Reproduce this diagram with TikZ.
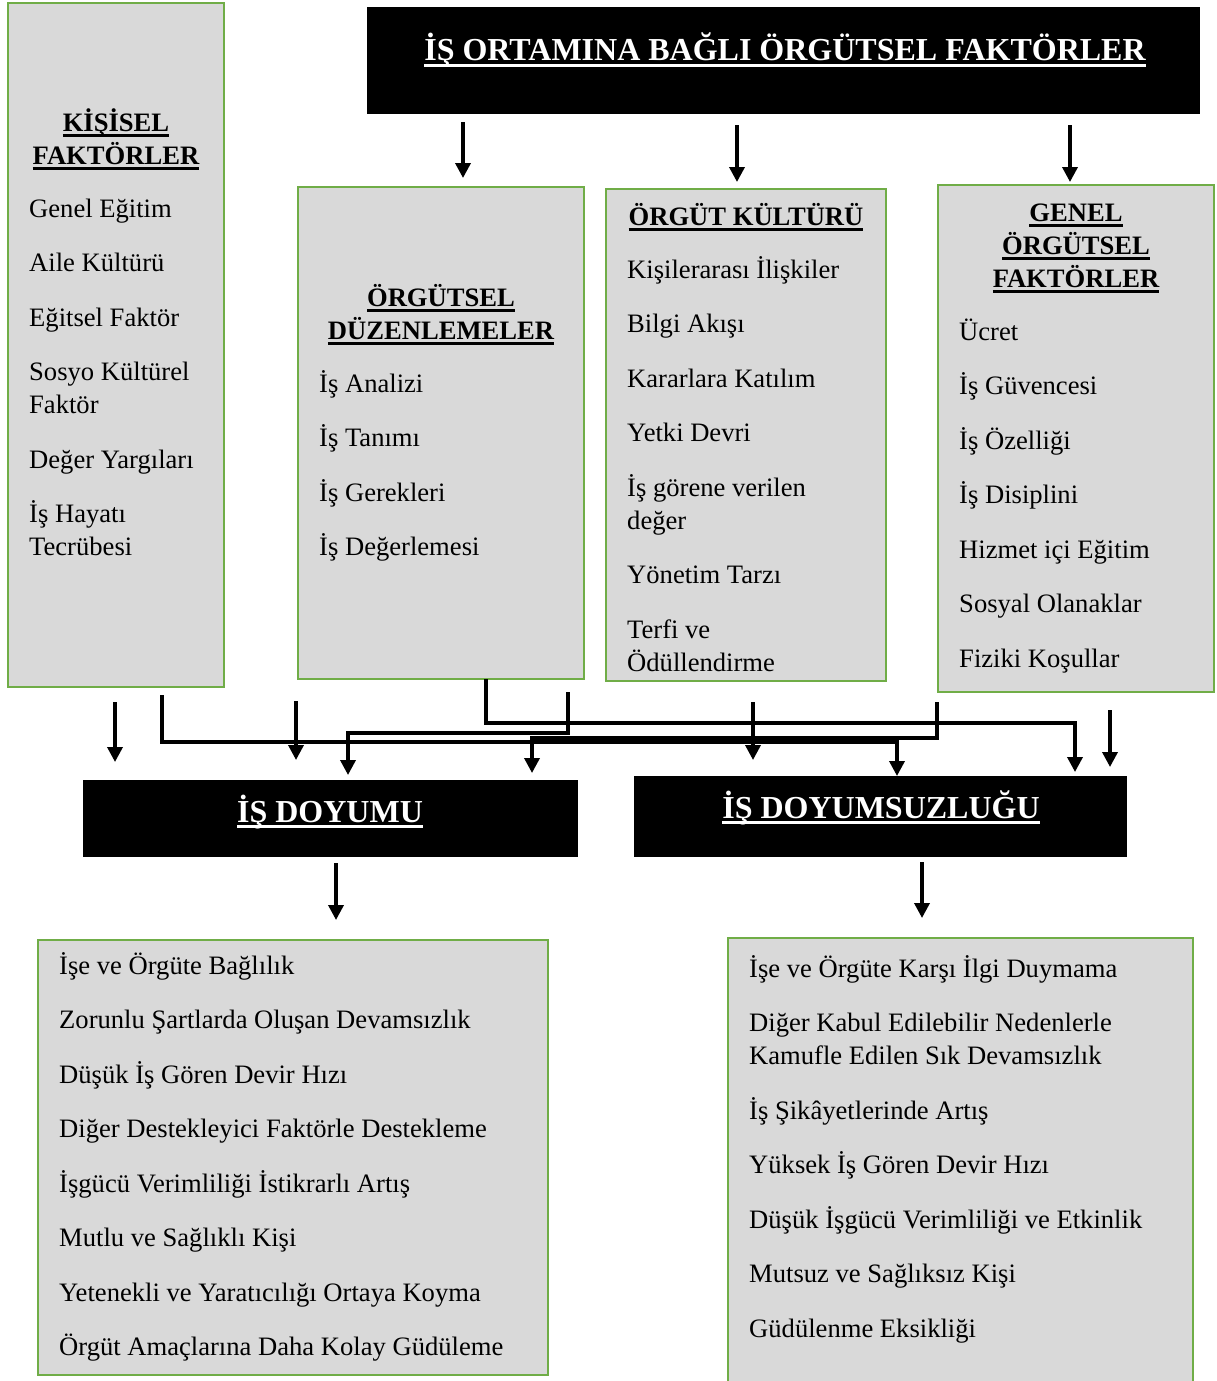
\documentclass[tikz,border=0pt]{standalone}
\usepackage{fontspec}
\setmainfont{Liberation Serif}
\usetikzlibrary{arrows.meta}

\definecolor{boxgreen}{HTML}{70AD47}
\definecolor{boxgray}{HTML}{D9D9D9}
\newsavebox{\hulbox}
\newcommand{\hul}[1]{\sbox{\hulbox}{#1}\rlap{\rule[-0.2em]{\wd\hulbox}{0.1em}}\usebox{\hulbox}}
\newcommand{\topstrut}{\rule{0pt}{24pt}}

\begin{document}
\begin{tikzpicture}[x=1pt, y=-1pt, >={Triangle[length=15pt,width=15pt]},
  gbox/.style={draw=boxgreen, line width=2.5pt, fill=boxgray, anchor=north west, inner sep=0pt, outer sep=0pt},
  bbox/.style={fill=black, anchor=north west, inner sep=0pt, outer sep=0pt},
  item/.style={anchor=north west, align=left, inner sep=0pt, font=\fontsize{26.6}{33}\selectfont},
  head/.style={anchor=north, align=center, inner sep=0pt, font=\fontsize{26.6}{33}\selectfont\bfseries},
  bhead/.style={anchor=base, inner sep=0pt, text=white, font=\fontsize{32}{38}\selectfont\bfseries},
  arr/.style={->, line width=3.5pt}]
  \clip (0,0) rectangle (1217,1381);

  % boxes
  \node (ortam) [bbox, minimum width=833pt, minimum height=107pt] at (367,7) {};
  \node (kisisel) [gbox, minimum width=216pt, minimum height=684pt] at (8,3) {};
  \node (duzen) [gbox, minimum width=286pt, minimum height=492pt] at (298,187) {};
  \node (kultur) [gbox, minimum width=280pt, minimum height=492pt] at (606,189) {};
  \node (genel) [gbox, minimum width=276pt, minimum height=507pt] at (938,185) {};
  \node (doyum) [bbox, minimum width=495pt, minimum height=77pt] at (83,780) {};
  \node (doyumsuz) [bbox, minimum width=493pt, minimum height=81pt] at (634,776) {};
  \node (olumlu) [gbox, minimum width=510pt, minimum height=435pt] at (38,940) {};
  \node (olumsuz) [gbox, minimum width=465pt, minimum height=460pt] at (728,938) {};

  % titles
  \node (ortam-t) [bhead] at (785,61) {\hul{İŞ ORTAMINA BAĞLI ÖRGÜTSEL FAKTÖRLER}};
  \node (doyum-t) [bhead] at (330,822) {\hul{İŞ DOYUMU}};
  \node (doyumsuz-t) [bhead] at (881,818) {\hul{İŞ DOYUMSUZLUĞU}};
  \node (kisisel-t) [head] at (116,107) {\topstrut\hul{KİŞİSEL}\\ \hul{FAKTÖRLER}};
  \node (duzen-t) [head] at (441,282) {\topstrut\hul{ÖRGÜTSEL}\\ \hul{DÜZENLEMELER}};
  \node (kultur-t) [head] at (746,201) {\topstrut\hul{ÖRGÜT KÜLTÜRÜ}};
  \node (genel-t) [head] at (1076,197) {\topstrut\hul{GENEL}\\ \hul{ÖRGÜTSEL}\\ \hul{FAKTÖRLER}};

  % lists
  \node (kisisel-l) [item] at (29,193) {\topstrut Genel Eğitim\\[21.5pt] Aile Kültürü\\[21.5pt] Eğitsel Faktör\\[21.5pt]
    Sosyo Kültürel\\ Faktör\\[21.5pt] Değer Yargıları\\[21.5pt] İş Hayatı\\ Tecrübesi};
  \node (duzen-l) [item] at (319,368) {\topstrut İş Analizi\\[21.5pt] İş Tanımı\\[21.5pt] İş Gerekleri\\[21.5pt] İş Değerlemesi};
  \node (kultur-l) [item] at (627,254) {\topstrut Kişilerarası İlişkiler\\[21.5pt] Bilgi Akışı\\[21.5pt] Kararlara Katılım\\[21.5pt]
    Yetki Devri\\[21.5pt] İş görene verilen\\ değer\\[21.5pt] Yönetim Tarzı\\[21.5pt] Terfi ve\\ Ödüllendirme};
  \node (genel-l) [item] at (959,316) {\topstrut Ücret\\[21.5pt] İş Güvencesi\\[21.5pt] İş Özelliği\\[21.5pt] İş Disiplini\\[21.5pt]
    Hizmet içi Eğitim\\[21.5pt] Sosyal Olanaklar\\[21.5pt] Fiziki Koşullar};
  \node (olumlu-l) [item] at (59,950) {\topstrut İşe ve Örgüte Bağlılık\\[21.5pt] Zorunlu Şartlarda Oluşan Devamsızlık\\[21.5pt]
    Düşük İş Gören Devir Hızı\\[21.5pt] Diğer Destekleyici Faktörle Destekleme\\[21.5pt]
    İşgücü Verimliliği İstikrarlı Artış\\[21.5pt] Mutlu ve Sağlıklı Kişi\\[21.5pt]
    Yetenekli ve Yaratıcılığı Ortaya Koyma\\[21.5pt] Örgüt Amaçlarına Daha Kolay Güdüleme};
  \node (olumsuz-l) [item] at (749,953) {\topstrut İşe ve Örgüte Karşı İlgi Duymama\\[21.5pt]
    Diğer Kabul Edilebilir Nedenlerle\\ Kamufle Edilen Sık Devamsızlık\\[21.5pt] İş Şikâyetlerinde Artış\\[21.5pt]
    Yüksek İş Gören Devir Hızı\\[21.5pt] Düşük İşgücü Verimliliği ve Etkinlik\\[21.5pt]
    Mutsuz ve Sağlıksız Kişi\\[21.5pt] Güdülenme Eksikliği};

  % arrows from the top
  \draw[arr] ([xshift=96pt,yshift=-8pt]ortam.south west) -- ([xshift=165pt,yshift=9pt]duzen.north west);
  \draw[arr] ([xshift=370pt,yshift=-11pt]ortam.south west) -- ([xshift=131pt,yshift=7pt]kultur.north west);
  \draw[arr] ([xshift=703pt,yshift=-11pt]ortam.south west) -- ([xshift=132pt,yshift=3pt]genel.north west);

  % straight arrows down
  \draw[arr] ([xshift=107pt,yshift=-15pt]kisisel.south west) -- ([xshift=32pt,yshift=18pt]doyum.north west);
  \draw[arr] ([xshift=-2pt,yshift=-22pt]duzen.south west) -- ([xshift=213pt,yshift=20pt]doyum.north west);
  \draw[arr] ([xshift=147pt,yshift=-21pt]kultur.south west) -- ([xshift=119pt,yshift=16pt]doyumsuz.north west);
  \draw[arr] ([xshift=172pt,yshift=-18pt]genel.south west) -- ([xshift=476pt,yshift=9pt]doyumsuz.north west);

  % crossing lines
  \draw[arr] ([xshift=154pt,yshift=-8pt]kisisel.south west) -- ++(0,47) -| ([xshift=263pt]doyumsuz.north west);
  \draw[arr] ([xshift=188pt]duzen.south west) -- ++(0,44) -| ([xshift=441pt,yshift=4pt]doyumsuz.north west);
  \draw[arr] ([xshift=270pt,yshift=-13pt]duzen.south west) -- ++(0,41) -| ([xshift=265pt,yshift=5pt]doyum.north west);
  \draw[arr] ([xshift=-1pt,yshift=-10pt]genel.south west) -- ++(0,36) -| ([xshift=449pt,yshift=7pt]doyum.north west);

  % results
  \draw[arr] ([xshift=253pt,yshift=-6pt]doyum.south west) -- ([xshift=298pt,yshift=20pt]olumlu.north west);
  \draw[arr] ([xshift=288pt,yshift=-5pt]doyumsuz.south west) -- ([xshift=194pt,yshift=20pt]olumsuz.north west);
\end{tikzpicture}
\end{document}
